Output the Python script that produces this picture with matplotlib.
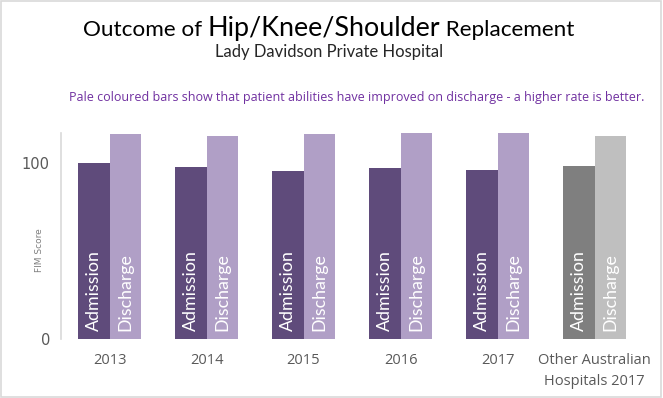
import numpy as np
import matplotlib
matplotlib.use('Agg')
from matplotlib import pyplot as plt
from matplotlib.patches import Rectangle

categories = ['2013', '2014', '2015', '2016', '2017', 'Other Australian\nHospitals 2017']
admission = [99.7, 97.4, 95.5, 96.8, 96.0, 98.3]
discharge = [116.2, 115.3, 116.0, 116.6, 116.9, 115.0]
yticks = [0, 100]

adm_colors = ['#5F4B7B'] * 5 + ['#7F7F7F']
dis_colors = ['#B09FC6'] * 5 + ['#BFBFBF']

fig = plt.figure(figsize=(6.63, 3.98), dpi=100)
ax = fig.add_axes([0.092, 0.1475, 0.878, 0.519])

x = np.arange(len(categories))
w = 0.325
ax.bar(x - w / 2, admission, w, color=adm_colors)
ax.bar(x + w / 2, discharge, w, color=dis_colors)

# vertical labels inside the bars
for i in x:
    ax.text(i - w / 2, 4.5, 'Admission', rotation=90, color='white', ha='center', va='bottom',
            fontsize=12.8, family='Lato')
    ax.text(i + w / 2, 4.5, 'Discharge', rotation=90, color='white', ha='center', va='bottom',
            fontsize=12.8, family='Lato')

ax.set_xlim(-0.5, len(categories) - 0.5)
ax.set_ylim(0, 117)
ax.set_yticks(yticks)
ax.set_xticks(x)
ax.set_xticklabels(categories, fontsize=10.5, color='#595959', linespacing=1.5, family='Open Sans')
ax.tick_params(axis='both', length=0, pad=8, labelsize=10.5, labelcolor='#595959')
ax.tick_params(axis='x', pad=10)
for s in ['top', 'right', 'bottom']:
    ax.spines[s].set_visible(False)
ax.spines['left'].set_color('#D9D9D9')
ax.spines['left'].set_linewidth(1.2)
fig.text(40 / 663, 1 - 250 / 398, 'FIM Score', rotation=90, fontsize=6.5, color='#7F7F7F',
         ha='center', va='center')

# title in three pieces with different sizes
fig.canvas.draw()
r = fig.canvas.get_renderer()
parts = [('Outcome of ', 16.2), ('Hip/Knee/Shoulder', 19.4), (' Replacement', 16.2)]
xpos = 83 / 663
for txt, size in parts:
    t = fig.text(xpos, 1 - 36 / 398, txt, fontsize=size, family='Lato', va='baseline', ha='left')
    bb = t.get_window_extent(renderer=r)
    xpos += bb.width / fig.bbox.width

fig.text(0.497, 1 - 56.5 / 398, 'Lady Davidson Private Hospital', fontsize=12, family='Lato',
         ha='center', va='baseline', color='#262626')
fig.text(0.104, 1 - 101 / 398,
         'Pale coloured bars show that patient abilities have improved on discharge - a higher rate is better.',
         fontsize=9.0, color='#7030A0', family='Open Sans', ha='left', va='baseline')

fig.patches.append(Rectangle((0.002, 0.003), 0.995, 0.994, transform=fig.transFigure,
                             fill=False, edgecolor='#D9D9D9', linewidth=1.2))

fig.savefig('out.png', dpi=100)
